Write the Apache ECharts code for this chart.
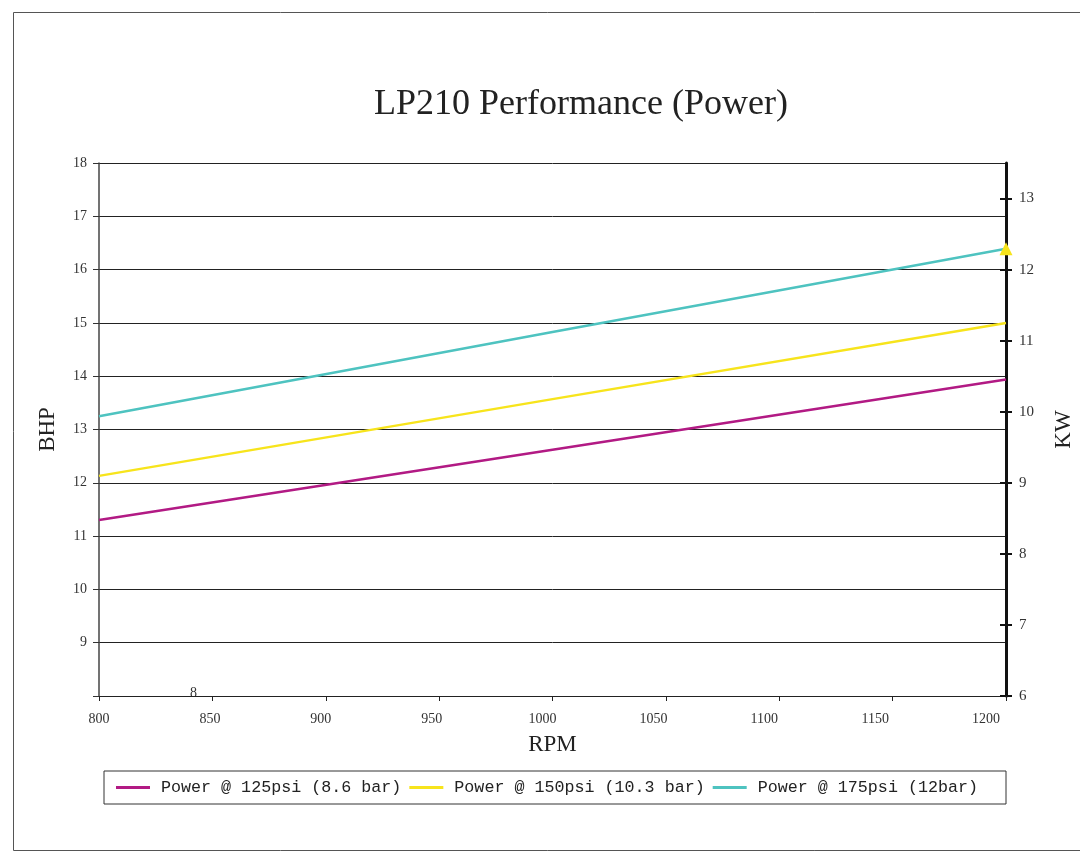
<!DOCTYPE html>
<html>
<head>
<meta charset="utf-8"/>
<title>LP210 Performance (Power)</title>
<script src="https://cdn.jsdelivr.net/npm/echarts@6/dist/echarts.min.js"></script>
<style>
html,body{margin:0;padding:0;background:#fff;}
#main{width:1080px;height:855px;}
</style>
</head>
<body>
<div id="main"></div>
<script>
// RPM points
var rpm = [800, 1000, 1200];
var power125 = [11.30, 12.62, 13.94];
var power150 = [12.13, 13.57, 15.00];
var power175 = [13.25, 14.83, 16.39];
var seriesNames = ['Power @ 125psi (8.6 bar)', 'Power @ 150psi (10.3 bar)', 'Power @ 175psi (12bar)'];
var seriesColors = ['#B21A84', '#F7E41C', '#4EC3C0'];
var rpmTicks = [800, 850, 900, 950, 1000, 1050, 1100, 1150, 1200];
var kwTicks = [6, 7, 8, 9, 10, 11, 12, 13];

var FONT = '"Liberation Serif", "DejaVu Serif", serif';
var MONO = '"Liberation Mono", "DejaVu Sans Mono", monospace';

function pairs(ys){
    var out = [];
    for (var i = 0; i < rpm.length; i++) out.push([rpm[i], ys[i]]);
    return out;
}

var d175 = pairs(power175);
// the one marker in the picture: yellow triangle at the last cyan point
d175[d175.length - 1] = {
    value: d175[d175.length - 1],
    symbol: 'triangle',
    symbolSize: 13,
    itemStyle: {color: '#F7E41C'}
};

var myChart = echarts.init(document.getElementById('main'));

var option = {
    backgroundColor: '#fff',
    animation: false,
    title: {
        text: 'LP210 Performance (Power)',
        left: 576,
        top: 82,
        textAlign: 'center',
        textStyle: {fontFamily: FONT, fontSize: 36, fontWeight: 'normal', color: '#222'}
    },
    legend: {
        data: seriesNames,
        left: 104,
        top: 771,
        padding: [8, 28, 8, 12],
        borderColor: '#333',
        borderWidth: 1,
        itemWidth: 34,
        itemHeight: 3,
        itemGap: 8,
        icon: 'rect',
        textStyle: {fontFamily: MONO, fontSize: 16.7, color: '#222', padding: [0, 0, 0, 6]}
    },
    grid: {left: 99, right: 74, top: 163, bottom: 159, outerBoundsMode: 'none', containLabel: false},
    xAxis: [
        {   // axis that carries the data and the ticks
            type: 'value',
            min: 800, max: 1200, interval: 50,
            axisLine: {show: true, lineStyle: {color: '#222', width: 1}},
            axisTick: {show: true, length: 5, lineStyle: {color: '#222'}},
            axisLabel: {show: false},
            splitLine: {show: false}
        },
        {   // labels only (they drift a little left of the ticks in the original)
            type: 'value',
            position: 'bottom',
            min: 800, max: 1209, interval: 50,
            axisLine: {show: false},
            axisTick: {show: false},
            axisLabel: {
                show: true, margin: 16, color: '#333',
                fontFamily: FONT, fontSize: 14,
                formatter: function(v){ return rpmTicks.indexOf(v) >= 0 ? String(v) : ''; }
            },
            splitLine: {show: false},
            name: 'RPM',
            nameLocation: 'middle',
            nameGap: 37,
            nameTextStyle: {fontFamily: FONT, fontSize: 23, color: '#222'}
        }
    ],
    yAxis: [
        {
            type: 'value',
            min: 8, max: 18, interval: 1,
            position: 'left',
            axisLine: {show: true, lineStyle: {color: '#444', width: 1.5}},
            axisTick: {show: true, length: 6, lineStyle: {color: '#333'}},
            axisLabel: {
                color: '#333', fontFamily: FONT, fontSize: 14, margin: 12,
                formatter: function(v){ return v === 8 ? '' : String(v); }
            },
            splitLine: {show: true, lineStyle: {color: '#222', width: 1}},
            name: 'BHP',
            nameLocation: 'middle',
            nameGap: 40,
            nameTextStyle: {fontFamily: FONT, fontSize: 23, color: '#222'}
        },
        {
            type: 'value',
            min: 6, max: 13.5, interval: 1,
            position: 'right',
            axisLine: {show: true, lineStyle: {color: '#111', width: 3}},
            axisTick: {show: true, length: 6, customValues: kwTicks, lineStyle: {color: '#111', width: 2}},
            axisLabel: {color: '#333', fontFamily: FONT, fontSize: 15, margin: 13, customValues: kwTicks},
            splitLine: {show: false},
            name: 'KW',
            nameLocation: 'middle',
            nameGap: 46,
            nameTextStyle: {fontFamily: FONT, fontSize: 23, color: '#222'}
        },
        {   // inside half of the crossing ticks on the KW axis
            type: 'value',
            min: 6, max: 13.5, interval: 1,
            position: 'right',
            axisLine: {show: false},
            axisTick: {show: true, inside: true, length: 6, customValues: kwTicks, lineStyle: {color: '#111', width: 2}},
            axisLabel: {show: false},
            splitLine: {show: false}
        }
    ],
    graphic: [
        {
            type: 'rect',
            shape: {x: 13.5, y: 12.5, width: 1100, height: 838},
            style: {fill: 'none', stroke: '#555', lineWidth: 1},
            silent: true, z: -1
        },
        {
            // stray "8" label that the original draws near the bottom axis
            type: 'text',
            left: 190, top: 686,
            style: {text: '8', fontFamily: FONT, fontSize: 14, fill: '#333'}
        }
    ],
    series: [
        {
            name: seriesNames[0], type: 'line', data: pairs(power125),
            color: seriesColors[0], showSymbol: false, symbol: 'none',
            lineStyle: {width: 2.5, color: seriesColors[0]}
        },
        {
            name: seriesNames[1], type: 'line', data: pairs(power150),
            color: seriesColors[1], showSymbol: false, symbol: 'none',
            lineStyle: {width: 2.5, color: seriesColors[1]}
        },
        {
            name: seriesNames[2], type: 'line', data: d175,
            color: seriesColors[2], symbol: 'none',
            lineStyle: {width: 2.5, color: seriesColors[2]}
        }
    ]
};

myChart.setOption(option);
</script>
</body>
</html>
